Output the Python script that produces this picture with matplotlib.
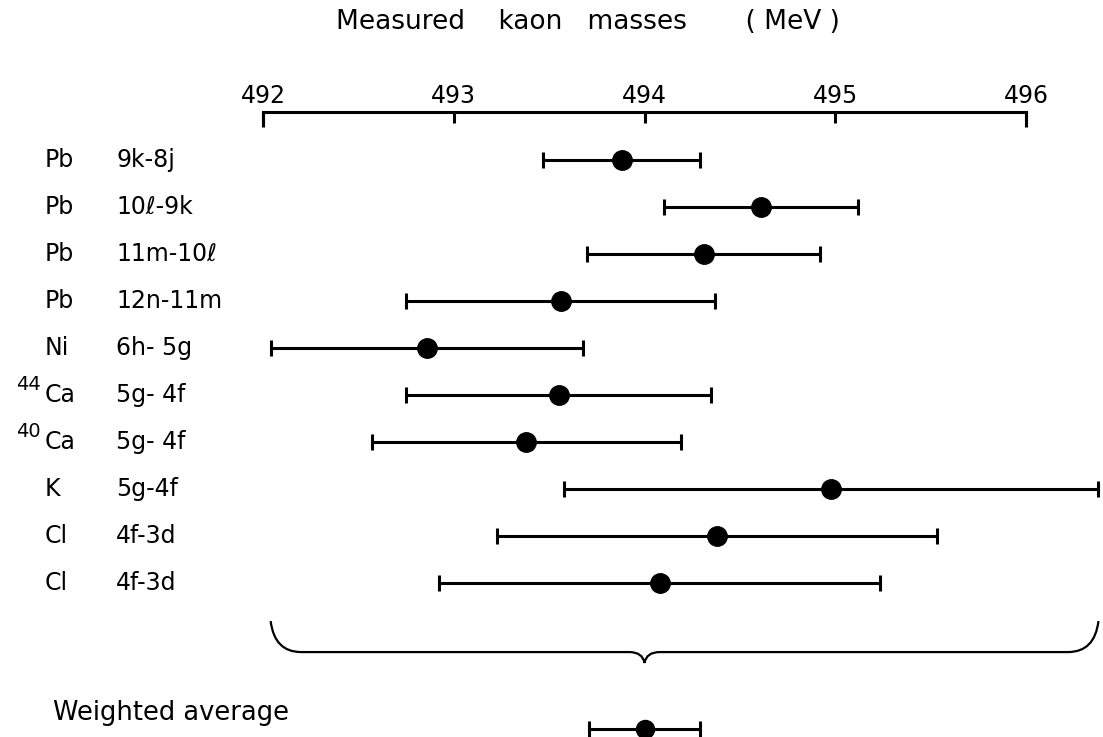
import numpy as np
import matplotlib.pyplot as plt
from matplotlib.path import Path
from matplotlib.patches import PathPatch

# data
# -------------------------------------------------------------------
elements = ["Pb", "Pb", "Pb", "Pb", "Ni", "Ca", "Ca", "K", "Cl", "Cl"]
isotopes = ["", "", "", "", "", "44", "40", "", "", ""]
transitions = ["9k-8j", "10ℓ-9k", "11m-10ℓ", "12n-11m", "6h- 5g",
               "5g- 4f", "5g- 4f", "5g-4f", "4f-3d", "4f-3d"]
masses = [493.88, 494.61, 494.31, 493.56, 492.86, 493.55, 493.38, 494.98, 494.38, 494.08]
errors = [0.41, 0.51, 0.61, 0.81, 0.82, 0.80, 0.81, 1.40, 1.155, 1.155]
avg_mass = 494.00
avg_err = 0.29
ticks = [492, 493, 494, 495, 496]

plt.rcParams['font.family'] = ['DejaVu Sans']

# Frame
# -------------------------------------------------------------------
fig = plt.figure(figsize=(11.03, 7.37), dpi=100)
ax = fig.add_axes([0, 0, 1, 625 / 737])

rows = np.arange(len(masses))
avg_row = 12.1

ax.errorbar(masses, rows, xerr=errors, fmt='o', color='black', ms=14,
            elinewidth=2.2, capsize=6, capthick=2.2, clip_on=False)
ax.errorbar([avg_mass], [avg_row], xerr=[avg_err], fmt='o', color='black', ms=13,
            elinewidth=2.2, capsize=6, capthick=2.2, clip_on=False)

ax.set_xlim(492 - 263 / 190.75, 492 + 840 / 190.75)
ax.set_ylim(12.277, -1.021)

# axis on top, only 492..496
for s in ["left", "right", "bottom"]:
    ax.spines[s].set_visible(False)
ax.spines["top"].set_bounds(ticks[0], ticks[-1])
ax.spines["top"].set_linewidth(2.2)
ax.xaxis.tick_top()
ax.xaxis.remove_overlapping_locs = False
ax.set_xticks(ticks)
ax.set_xticks([ticks[0], ticks[-1]], minor=True)
ax.set_xticklabels([str(t) for t in ticks])
ax.tick_params(axis='x', which='major', direction='in', length=8, width=2.2,
               labelsize=17, pad=3)
ax.tick_params(axis='x', which='minor', direction='in', length=11, width=2.2)
ax.set_yticks([])

# row labels
tr = ax.get_yaxis_transform()
for i in rows:
    ax.text(45 / 1103, i, elements[i], transform=tr, ha='left', va='center', fontsize=17)
    if isotopes[i]:
        ax.text(41 / 1103, i - 0.22, isotopes[i], transform=tr, ha='right', va='center', fontsize=14)
    ax.text(116 / 1103, i, transitions[i], transform=tr, ha='left', va='center', fontsize=17)

ax.text(53 / 1103, avg_row - 0.33, "Weighted average", transform=tr,
        ha='left', va='center', fontsize=18.5)

# brace under the measurements
x0 = min(m - e for m, e in zip(masses, errors))
x1 = max(m + e for m, e in zip(masses, errors))
xc = avg_mass
yA, yH, yT = 9.81, 10.47, 10.70
verts = [(x0, yA), (x0 + 0.02, yH), (x0 + 0.16, yH),
         (xc - 0.08, yH), (xc - 0.01, yH), (xc, yT),
         (xc + 0.01, yH), (xc + 0.08, yH),
         (x1 - 0.16, yH), (x1 - 0.02, yH), (x1, yA)]
codes = [Path.MOVETO, Path.CURVE3, Path.CURVE3,
         Path.LINETO, Path.CURVE3, Path.CURVE3,
         Path.CURVE3, Path.CURVE3,
         Path.LINETO, Path.CURVE3, Path.CURVE3]
ax.add_patch(PathPatch(Path(verts, codes), fill=False, lw=1.6, color='black', clip_on=False))

fig.text(588 / 1103, 1 - 22 / 737, "Measured    kaon   masses       ( MeV )",
         ha='center', va='center', fontsize=19)

plt.savefig("out.png", dpi=100)
